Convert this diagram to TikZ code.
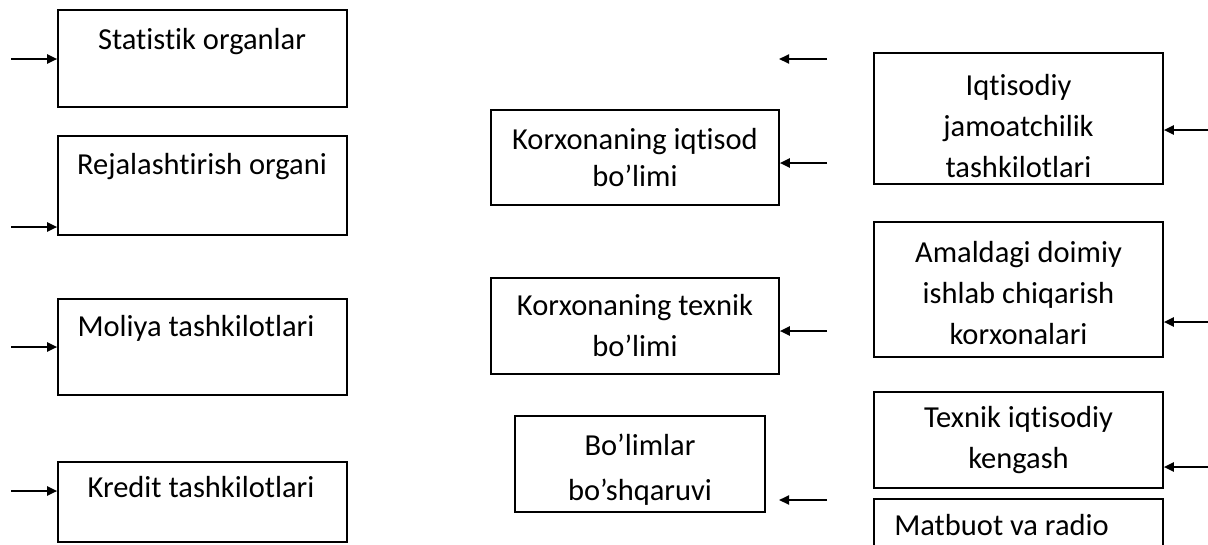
\documentclass[tikz,border=0pt]{standalone}
\usepackage{fontspec}
\setmainfont[Ligatures={NoCommon}]{Carlito}
\usetikzlibrary{arrows.meta}
\begin{document}
\begin{tikzpicture}[x=1pt,y=-1pt,
  box/.style={draw, line width=1.6pt, rectangle, inner sep=0pt, align=center,
    font=\fontsize{30.5}{41}\selectfont},
  txt/.style={inner sep=0pt, anchor=base, font=\fontsize{30.5}{41}\selectfont},
  arr/.style={line width=2.1pt, -{Triangle[length=10pt,width=9pt]}}]
\useasboundingbox (0,0) rectangle (1208,544);
\clip (0,0) rectangle (1208,544);
% left column
\node[box, minimum width=289pt, minimum height=97pt] (b1) at (202.5,58.5) {};
\node[txt] (t1) at (202,49) {Statistik organlar};
\node[box, minimum width=289pt, minimum height=99pt] (b2) at (202.5,185.5) {};
\node[txt] (t2) at (202,174) {Rejalashtirish organi};
\node[box, minimum width=289pt, minimum height=96pt] (b3) at (202.5,347) {};
\node[txt] (t3) at (196,336) {Moliya tashkilotlari};
\node[box, minimum width=289pt, minimum height=80pt] (b4) at (202.5,502) {};
\node[txt] (t4) at (201,497) {Kredit tashkilotlari};
% middle column
\node[box, minimum width=288pt, minimum height=95pt, font=\fontsize{30.5}{37}\selectfont] (m1) at (635,157.5) {Korxonaning iqtisod\\bo’limi};
\node[box, minimum width=288pt, minimum height=96pt] (m2) at (635,326) {Korxonaning texnik\\bo’limi};
\node[box, minimum width=250pt, minimum height=96pt, font=\fontsize{30.5}{45}\selectfont] (m3) at (640,464) {\rule{0pt}{33pt}Bo’limlar\\bo’shqaruvi};
% right column
\node[box, minimum width=289pt, minimum height=131pt] (r1) at (1018.5,118.5) {\rule{0pt}{36pt}Iqtisodiy\\jamoatchilik\\tashkilotlari};
\node[box, minimum width=289pt, minimum height=135pt] (r2) at (1018.5,289.5) {\strut Amaldagi doimiy\\ishlab chiqarish\\korxonalari};
\node[box, minimum width=289pt, minimum height=96pt] (r3) at (1018.5,440) {Texnik iqtisodiy\\kengash};
\node[box, minimum width=289pt, minimum height=96pt] (r4) at (1018.5,547) {};
\node[txt] (t5) at (1001.5,535) {Matbuot va radio};
% arrows
\coordinate (a1) at (11,59);
\coordinate (a2) at (11,227);
\coordinate (a3) at (11,347);
\coordinate (a4) at (11,491);
\draw[arr] (a1) -- (a1 -| b1.west);
\draw[arr] (a2) -- (a2 -| b2.west);
\draw[arr] (a3) -- (a3 -| b3.west);
\draw[arr] (a4) -- (a4 -| b4.west);
\coordinate (c1) at (827,59);
\coordinate (c1e) at (779,59);
\coordinate (c2) at (827,163);
\coordinate (c3) at (827,331);
\coordinate (c4) at (827,500);
\coordinate (c4e) at (779,500);
\draw[arr] (c1) -- (c1e);
\draw[arr] (c2) -- (c2 -| m1.east);
\draw[arr] (c3) -- (c3 -| m2.east);
\draw[arr] (c4) -- (c4e);
\coordinate (d1) at (1208,130);
\coordinate (d2) at (1208,322);
\coordinate (d3) at (1208,467);
\draw[arr] (d1) -- (d1 -| r1.east);
\draw[arr] (d2) -- (d2 -| r2.east);
\draw[arr] (d3) -- (d3 -| r3.east);
\end{tikzpicture}
\end{document}
